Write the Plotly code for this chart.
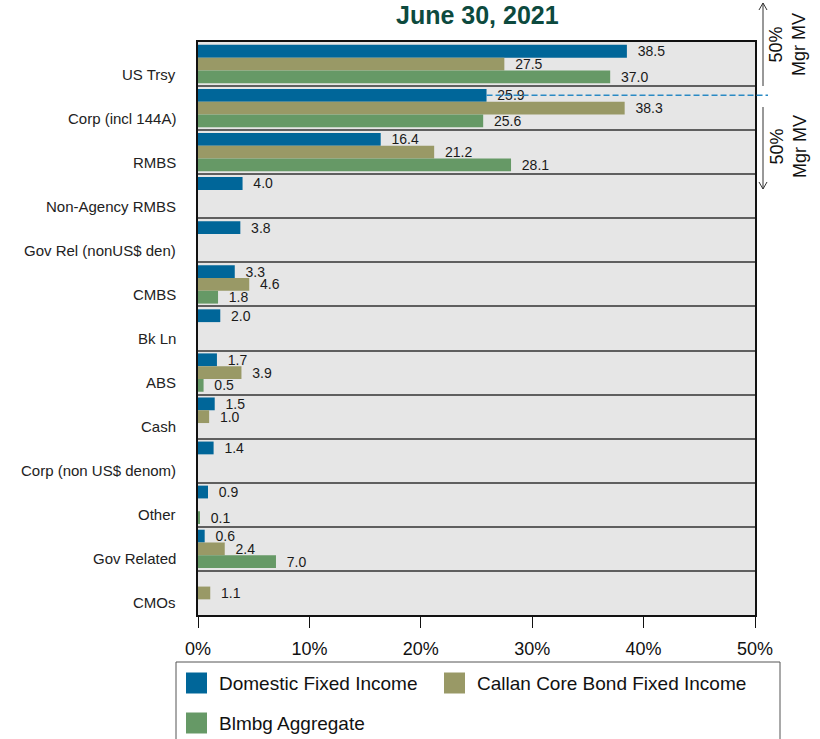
import plotly.graph_objects as go

# Sector allocation (% of market value) as of June 30, 2021
categories = [
    "US Trsy", "Corp (incl 144A)", "RMBS", "Non-Agency RMBS",
    "Gov Rel (nonUS$ den)", "CMBS", "Bk Ln", "ABS", "Cash",
    "Corp (non US$ denom)", "Other", "Gov Related", "CMOs",
]
domestic_fixed = [38.5, 25.9, 16.4, 4.0, 3.8, 3.3, 2.0, 1.7, 1.5, 1.4, 0.9, 0.6, None]
callan_core = [27.5, 38.3, 21.2, None, None, 4.6, None, 3.9, 1.0, None, None, 2.4, 1.1]
blmbg_agg = [37.0, 25.6, 28.1, None, None, 1.8, None, 0.5, None, None, 0.1, 7.0, None]

series_names = ["Domestic Fixed Income", "Callan Core Bond Fixed Income", "Blmbg Aggregate"]
series_colors = ["#006699", "#999966", "#669966"]
x_ticks = [0, 10, 20, 30, 40, 50]

FONT = "Liberation Sans, Arial, sans-serif"
W_FIG, H_FIG = 820, 739
L, R, T, B = 198, 755, 42, 615
BARGAP = 0.13


def px(x):
    return (x - L) / (R - L)


def py(y):
    return (B - y) / (B - T)


fig = go.Figure()
for name, vals, color in zip(series_names, [domestic_fixed, callan_core, blmbg_agg], series_colors):
    fig.add_trace(go.Bar(
        y=categories,
        x=vals,
        name=name,
        orientation="h",
        marker=dict(color=color, line=dict(width=0)),
        text=["" if v is None else "\u00a0\u00a0%.1f" % v for v in vals],
        textposition="outside",
        constraintext="none",
        textfont=dict(family=FONT, size=14, color="#1a1a1a"),
        cliponaxis=False,
        showlegend=False,
        hoverinfo="x+y",
    ))

annotations = []
shapes = []

# Category labels, set slightly below the row centre
for c in categories:
    annotations.append(dict(
        x=0, xref="paper", xanchor="right", xshift=-20,
        y=c, yref="y", yshift=-10, yanchor="middle",
        text=c, showarrow=False,
        font=dict(family=FONT, size=15, color="#222222"),
    ))

# Title
annotations.append(dict(
    x=px(477), xref="paper", y=py(15), yref="paper",
    xanchor="center", yanchor="middle",
    text="<b>June 30, 2021</b>", showarrow=False,
    font=dict(family=FONT, size=25, color="#0D4A3E"),
))

# Dashed 50% split line at the Domestic Corp bar end
split_y = 1 - (1 - BARGAP) / 3
shapes.append(dict(
    type="line", xref="paper", yref="y",
    x0=domestic_fixed[1] / x_ticks[-1], x1=px(768),
    y0=split_y, y1=split_y,
    line=dict(color="#2A8AC4", width=1.5, dash="6px,3px"),
))

# Up / down arrows with "50% Mgr MV" captions
ax_x = 763
shapes += [
    dict(type="line", xref="paper", yref="paper",
         x0=px(ax_x), x1=px(ax_x), y0=py(86), y1=py(3),
         line=dict(color="#333333", width=1)),
    dict(type="path", xref="paper", yref="paper",
         path="M %f,%f L %f,%f L %f,%f" % (px(ax_x - 4), py(10), px(ax_x), py(3), px(ax_x + 4), py(10)),
         line=dict(color="#333333", width=1)),
    dict(type="line", xref="paper", yref="paper",
         x0=px(ax_x), x1=px(ax_x), y0=py(107), y1=py(189),
         line=dict(color="#333333", width=1)),
    dict(type="path", xref="paper", yref="paper",
         path="M %f,%f L %f,%f L %f,%f" % (px(ax_x - 4), py(182), px(ax_x), py(189), px(ax_x + 4), py(182)),
         line=dict(color="#333333", width=1)),
]
for cy in (45, 147):
    annotations.append(dict(
        x=px(788), xref="paper", y=py(cy), yref="paper",
        xanchor="center", yanchor="middle", textangle=-90,
        text="50%<br>Mgr MV", showarrow=False,
        font=dict(family=FONT, size=18, color="#111111"),
    ))

# Legend box
shapes.append(dict(
    type="rect", xref="paper", yref="paper",
    x0=px(176), x1=px(780), y0=py(662), y1=py(748),
    line=dict(color="#555555", width=1), fillcolor="white",
))
legend_items = [(186, 683), (444, 683), (186, 723)]
for (lx, ly), name, color in zip(legend_items, series_names, series_colors):
    shapes.append(dict(
        type="rect", xref="paper", yref="paper",
        x0=px(lx), x1=px(lx + 21), y0=py(ly + 10.5), y1=py(ly - 10.5),
        line=dict(width=0), fillcolor=color,
    ))
    annotations.append(dict(
        x=px(lx + 31), xref="paper", y=py(ly), yref="paper",
        xanchor="left", yanchor="middle", text=name, showarrow=False,
        font=dict(family=FONT, size=19, color="#111111"),
    ))

fig.update_layout(
    width=W_FIG, height=H_FIG,
    margin=dict(l=L, r=W_FIG - R, t=T, b=H_FIG - B, pad=0),
    barmode="group", bargap=BARGAP, bargroupgap=0,
    plot_bgcolor="#E6E6E6", paper_bgcolor="white",
    font=dict(family=FONT, color="#111111"),
    shapes=shapes, annotations=annotations,
    showlegend=False,
)
fig.update_xaxes(
    range=[x_ticks[0], x_ticks[-1]], tickvals=x_ticks,
    ticktext=["%d%%" % t for t in x_ticks],
    ticks="outside", ticklen=11, tickcolor="#111111", tickwidth=1,
    ticklabelstandoff=6,
    tickfont=dict(family=FONT, size=18, color="#111111"),
    showgrid=False, zeroline=False,
    showline=True, mirror=True, linecolor="#111111", linewidth=1.5,
)
fig.update_yaxes(
    type="category", categoryorder="array", categoryarray=categories,
    autorange="reversed",
    showticklabels=False, ticks="",
    tickson="boundaries", showgrid=True, gridcolor="#5f5f5f", gridwidth=1.5,
    showline=True, mirror=True, linecolor="#111111", linewidth=2,
)

fig.write_html("out.html")
